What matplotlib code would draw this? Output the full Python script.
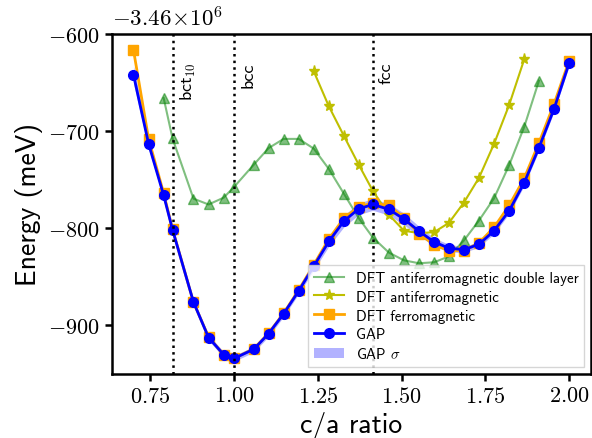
import numpy as np
import matplotlib
matplotlib.use("Agg")
import matplotlib.pyplot as plt

plt.rcParams["font.family"] = "cmr10"
plt.rcParams["mathtext.fontset"] = "cm"
plt.rcParams["axes.formatter.use_mathtext"] = True
plt.rcParams["axes.linewidth"] = 1.8

# c/a grid (special structures inserted into the grid)
ca = [0.700, 0.745, 0.790, 0.8165, 0.879, 0.924, 0.969, 1.000, 1.059, 1.103,
      1.148, 1.193, 1.238, 1.283, 1.328, 1.372, 1.4142, 1.462, 1.507, 1.552,
      1.597, 1.641, 1.686, 1.731, 1.776, 1.821, 1.866, 1.910, 1.955, 2.000]

E0 = -3.46e6  # meV reference

gap = [-642, -713, -766, -801.5, -876, -912.5, -930, -934, -924.5, -908.5,
       -888, -864.5, -839, -813.5, -792.5, -780, -775.5, -780.5, -790.5, -803,
       -814, -820.5, -822, -816.5, -802.5, -782, -753, -717, -677, -630]
gap_sigma = [9, 5, 4, 3, 3, 3, 3, 3, 3, 3,
             3, 3, 4, 5, 6, 6, 6, 6, 6, 5,
             4, 4, 3, 3, 3, 3, 3, 3, 3, 3]

dft_fm = [-616.5, -708, -764, -801, -876, -912, -930, -934, -924, -908,
          -887.5, -863.5, -837.5, -811, -789.5, -778, -774, -776.5, -789, -805.5,
          -817, -823, -823, -815, -799, -776.5, -748.5, -712, -672, -627.5]

ca_afm = [1.238, 1.283, 1.328, 1.372, 1.4142, 1.462, 1.507, 1.552, 1.597, 1.641,
          1.686, 1.731, 1.776, 1.821, 1.866]
dft_afm = [-638.5, -674.5, -705, -734.5, -761.5, -786, -802.5, -805, -804, -794.5,
           -773.5, -748, -713, -673, -626]

ca_afmd = [0.790, 0.8165, 0.879, 0.924, 0.969, 1.000, 1.059, 1.103, 1.148, 1.193,
           1.238, 1.283, 1.328, 1.372, 1.4142, 1.462, 1.507, 1.552, 1.597, 1.641,
           1.686, 1.731, 1.776, 1.821, 1.866, 1.910]
dft_afmd = [-666, -707.5, -769.5, -775.5, -768.5, -757.5, -734.5, -717.5, -708, -708,
            -718, -739, -764.5, -789.5, -809.5, -825, -833, -836, -835, -829,
            -812.5, -792, -769, -735, -695.5, -648]

structures = [r"bct$_{\mathrm{10}}$", "bcc", "fcc"]
structure_ca = [np.sqrt(2.0 / 3.0), 1.0, np.sqrt(2.0)]

x = np.array(ca)
y_gap = E0 + np.array(gap)
s_gap = np.array(gap_sigma)

fig = plt.figure(figsize=(5.92, 4.39), dpi=100)
ax = fig.add_axes([0.1887, 0.1458, 0.8095, 0.7745])

ax.plot(ca_afmd, E0 + np.array(dft_afmd), "g^-", alpha=0.5, lw=1.5, ms=7,
        label="DFT antiferromagnetic double layer")
ax.plot(ca_afm, E0 + np.array(dft_afm), "y*-", lw=1.5, ms=8,
        label="DFT antiferromagnetic")
ax.plot(x, E0 + np.array(dft_fm), "s-", color="orange", lw=2, ms=7,
        label="DFT ferromagnetic")
ax.plot(x, y_gap, "bo-", lw=2, ms=7, label="GAP")
ax.fill_between(x, y_gap - s_gap, y_gap + s_gap, color="b", alpha=0.3,
                lw=0, label=r"GAP $\sigma$")

for name, c in zip(structures, structure_ca):
    ax.axvline(c, color="k", ls=":", lw=1.8)
    ax.text(c + 0.018, E0 - 628, name, rotation=90, ha="left", va="top",
            fontsize=13, family="cmss10")

ax.set_xlim(0.635, 2.065)
ax.set_ylim(E0 - 950, E0 - 600)
ax.set_yticks(E0 + np.array([-900, -800, -700, -600]))
ax.set_yticklabels([r"$\mathdefault{-900}$", r"$\mathdefault{-800}$",
                    r"$\mathdefault{-700}$", r"$\mathdefault{-600}$"])
ax.set_xticks([0.75, 1.0, 1.25, 1.5, 1.75, 2.0])
ax.tick_params(labelsize=16, width=1.8, length=5)

# offset of the energy axis
ax.text(0.0, 1.012, r"$-3.46\!\times\!10^{6}$", transform=ax.transAxes,
        ha="left", va="bottom", fontsize=16.5)

ax.set_xlabel("c/a ratio", fontsize=20, family="cmss10")
ax.set_ylabel("Energy (meV)", fontsize=20, family="cmss10")

ax.legend(loc="lower right", prop={"family": "cmss10", "size": 10.7},
          fancybox=False, labelspacing=0.33, borderaxespad=0.45)

fig.savefig("out.png")
